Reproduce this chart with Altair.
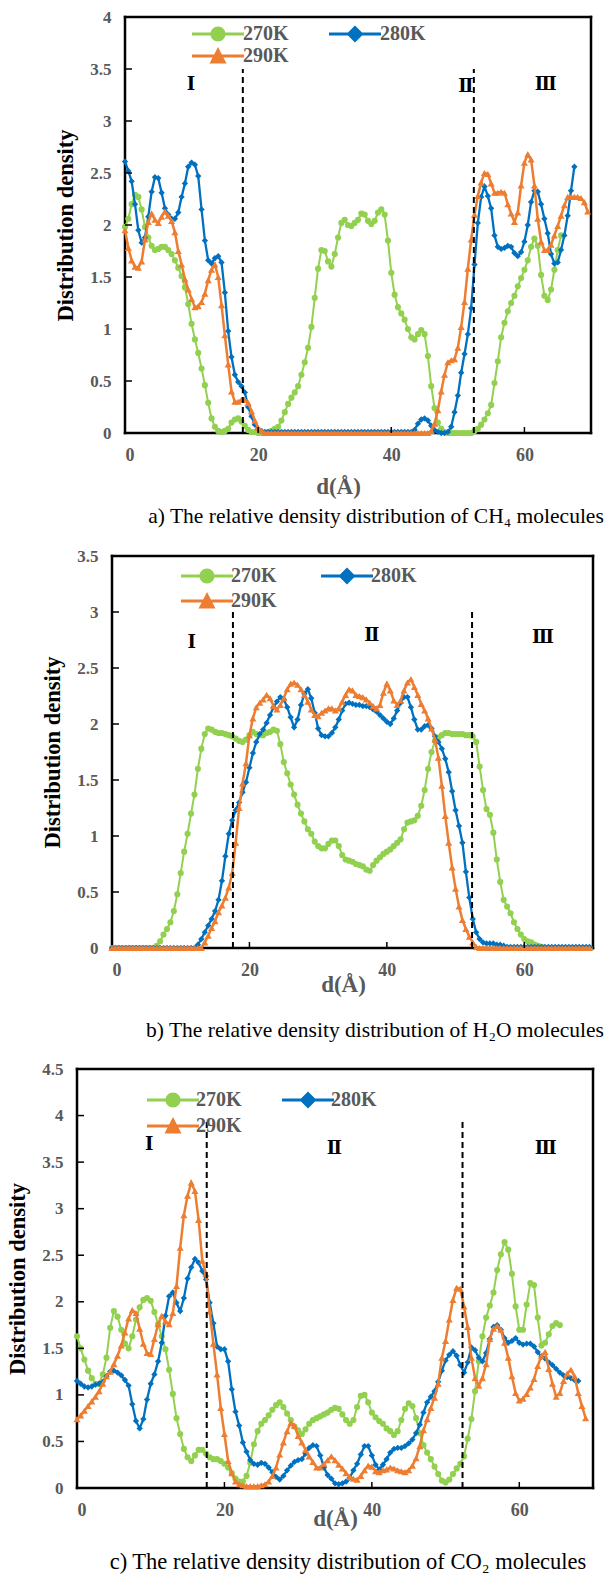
import altair as alt
import pandas as pd

STEP = 0.5  # sampling step of the distance axis (Å)
SERIES = ["270K", "280K", "290K"]
GREEN, BLUE, ORANGE = "#92D050", "#0070C0", "#ED7D31"
FONT = "Liberation Serif"
GRAY = "#595959"

# ---------------- panel a : CH4 ----------------
A270 = [
    1.98, 2.06, 2.20, 2.29, 2.27, 2.15, 1.98, 1.88, 1.80, 1.76,
    1.77, 1.79, 1.79, 1.76, 1.72, 1.66, 1.59, 1.51, 1.40, 1.24,
    1.05, 0.90, 0.77, 0.62, 0.46, 0.29, 0.14, 0.06, 0.02, 0.01,
    0.02, 0.04, 0.10, 0.13, 0.14, 0.11, 0.07, 0.03, 0.01, 0.01,
    0.00, 0.00, 0.00, 0.01, 0.02, 0.04, 0.06, 0.12, 0.20, 0.28,
    0.34, 0.39, 0.45, 0.56, 0.68, 0.82, 1.02, 1.30, 1.58, 1.76,
    1.75, 1.65, 1.60, 1.72, 1.88, 2.02, 2.05, 2.00, 1.99, 2.02,
    2.05, 2.11, 2.10, 2.04, 2.01, 2.04, 2.12, 2.15, 2.10, 1.85,
    1.54, 1.33, 1.21, 1.15, 1.09, 1.00, 0.92, 0.90, 0.95, 0.99,
    0.95, 0.74, 0.45, 0.24, 0.10, 0.04, 0.01, 0.00, 0.00, 0.00,
    0.00, 0.00, 0.00, 0.00, 0.00, 0.02, 0.04, 0.08, 0.13, 0.19,
    0.27, 0.48, 0.69, 0.92, 1.06, 1.17, 1.25, 1.32, 1.41, 1.49,
    1.57, 1.66, 1.79, 1.87, 1.80, 1.52, 1.32, 1.28, 1.38, 1.57,
    1.76, 1.90,
]
A280 = [
    2.61, 2.52, 2.42, 2.20, 1.95, 1.83, 1.88, 2.08, 2.32, 2.46,
    2.45, 2.31, 2.16, 2.10, 2.06, 2.06, 2.12, 2.27, 2.40, 2.56,
    2.60, 2.58, 2.47, 2.15, 1.85, 1.66, 1.63, 1.68, 1.70, 1.64,
    1.35, 0.98, 0.73, 0.56, 0.49, 0.45, 0.39, 0.25, 0.16, 0.08,
    0.04, 0.02, 0.01, 0.01, 0.01, 0.01, 0.01, 0.01, 0.01, 0.01,
    0.01, 0.01, 0.01, 0.01, 0.01, 0.01, 0.01, 0.01, 0.01, 0.01,
    0.01, 0.01, 0.01, 0.01, 0.01, 0.01, 0.01, 0.01, 0.01, 0.01,
    0.01, 0.01, 0.01, 0.01, 0.01, 0.01, 0.01, 0.01, 0.01, 0.01,
    0.01, 0.01, 0.01, 0.01, 0.01, 0.01, 0.01, 0.03, 0.09, 0.13,
    0.14, 0.12, 0.07, 0.03, 0.01, 0.00, 0.00, 0.01, 0.06, 0.20,
    0.36, 0.58, 0.76, 0.95, 1.20, 1.62, 2.02, 2.27, 2.37, 2.28,
    2.16, 1.90, 1.79, 1.77, 1.78, 1.80, 1.79, 1.73, 1.70, 1.74,
    1.84, 2.00, 2.22, 2.33, 2.32, 2.20, 2.06, 1.92, 1.72, 1.63,
    1.64, 1.76, 1.90, 2.09, 2.33, 2.56,
]
A290 = [
    1.95, 1.78, 1.66, 1.60, 1.59, 1.65, 1.86, 2.03, 2.11, 2.05,
    2.02, 2.08, 2.13, 2.09, 2.04, 1.93, 1.75, 1.62, 1.48, 1.38,
    1.29, 1.21, 1.22, 1.26, 1.34, 1.47, 1.57, 1.62, 1.50, 1.23,
    0.94, 0.66, 0.40, 0.30, 0.30, 0.32, 0.32, 0.29, 0.21, 0.12,
    0.05, 0.02, 0.00, 0.00, 0.00, 0.00, 0.00, 0.00, 0.00, 0.00,
    0.00, 0.00, 0.00, 0.00, 0.00, 0.00, 0.00, 0.00, 0.00, 0.00,
    0.00, 0.00, 0.00, 0.00, 0.00, 0.00, 0.00, 0.00, 0.00, 0.00,
    0.00, 0.00, 0.00, 0.00, 0.00, 0.00, 0.00, 0.00, 0.00, 0.00,
    0.00, 0.00, 0.00, 0.00, 0.00, 0.00, 0.00, 0.00, 0.00, 0.00,
    0.00, 0.00, 0.02, 0.09, 0.22, 0.40, 0.56, 0.68, 0.70, 0.71,
    0.82, 1.02, 1.26, 1.58, 1.86, 2.10, 2.28, 2.41, 2.50, 2.49,
    2.40, 2.31, 2.31, 2.32, 2.31, 2.20, 2.11, 2.03, 2.12, 2.38,
    2.60, 2.68, 2.63, 2.38, 2.06, 1.84, 1.76, 1.76, 1.81, 1.90,
    1.99, 2.09, 2.19, 2.27, 2.27, 2.27, 2.27, 2.26, 2.22, 2.13,
]

# ---------------- panel b : H2O ----------------
B270 = [
    0.00, 0.00, 0.00, 0.00, 0.00, 0.00, 0.00, 0.00, 0.00, 0.00,
    0.00, 0.00, 0.00, 0.02, 0.06, 0.12, 0.17, 0.23, 0.33, 0.48,
    0.67, 0.86, 1.02, 1.20, 1.37, 1.60, 1.78, 1.91, 1.96, 1.95,
    1.93, 1.92, 1.92, 1.91, 1.90, 1.89, 1.87, 1.85, 1.84, 1.86,
    1.90, 1.93, 1.91, 1.90, 1.90, 1.92, 1.93, 1.95, 1.94, 1.82,
    1.66, 1.56, 1.46, 1.37, 1.28, 1.20, 1.13, 1.06, 1.02, 0.95,
    0.91, 0.89, 0.89, 0.93, 0.96, 0.96, 0.91, 0.83, 0.79, 0.78,
    0.77, 0.75, 0.74, 0.73, 0.70, 0.69, 0.74, 0.78, 0.81, 0.84,
    0.86, 0.88, 0.91, 0.94, 0.97, 1.06, 1.12, 1.13, 1.14, 1.18,
    1.27, 1.41, 1.60, 1.75, 1.85, 1.88, 1.90, 1.92, 1.92, 1.91,
    1.91, 1.91, 1.91, 1.90, 1.90, 1.89, 1.84, 1.62, 1.41, 1.24,
    1.19, 1.03, 0.79, 0.59, 0.43, 0.37, 0.31, 0.23, 0.17, 0.12,
    0.08, 0.06, 0.05, 0.03, 0.02, 0.01, 0.00, 0.00, 0.00, 0.00,
    0.00, 0.00, 0.00, 0.00, 0.00, 0.00, 0.00, 0.00, 0.00, 0.00,
]
B280 = [
    0.00, 0.00, 0.00, 0.00, 0.00, 0.00, 0.00, 0.00, 0.00, 0.00,
    0.00, 0.00, 0.00, 0.00, 0.00, 0.00, 0.00, 0.00, 0.00, 0.00,
    0.00, 0.00, 0.00, 0.00, 0.00, 0.03, 0.08, 0.14, 0.20, 0.26,
    0.33, 0.43, 0.60, 0.82, 1.02, 1.14, 1.23, 1.30, 1.39, 1.48,
    1.61, 1.74, 1.84, 1.91, 1.95, 2.01, 2.08, 2.15, 2.20, 2.24,
    2.22, 2.15, 2.06, 1.97, 2.04, 2.17, 2.27, 2.31, 2.23, 2.10,
    1.96, 1.90, 1.89, 1.89, 1.92, 1.97, 2.04, 2.12, 2.18, 2.19,
    2.18, 2.17, 2.17, 2.16, 2.16, 2.15, 2.13, 2.11, 2.08, 2.05,
    2.02, 2.00, 2.05, 2.12, 2.19, 2.24, 2.24, 2.15, 2.04, 1.95,
    1.95, 1.98, 1.99, 1.96, 1.89, 1.84, 1.78, 1.69, 1.57, 1.40,
    1.23, 1.09, 0.94, 0.68, 0.45, 0.26, 0.14, 0.08, 0.05, 0.04,
    0.04, 0.04, 0.03, 0.03, 0.02, 0.01, 0.01, 0.01, 0.01, 0.01,
    0.01, 0.01, 0.01, 0.01, 0.01, 0.01, 0.01, 0.01, 0.01, 0.01,
    0.01, 0.01, 0.01, 0.01, 0.01, 0.01, 0.01, 0.01, 0.01, 0.01,
]
B290 = [
    0.00, 0.00, 0.00, 0.00, 0.00, 0.00, 0.00, 0.00, 0.00, 0.00,
    0.00, 0.00, 0.00, 0.00, 0.00, 0.00, 0.00, 0.00, 0.00, 0.00,
    0.00, 0.00, 0.00, 0.00, 0.00, 0.00, 0.00, 0.05, 0.11, 0.18,
    0.24, 0.32, 0.38, 0.45, 0.54, 0.67, 0.94, 1.25, 1.47, 1.65,
    1.90, 2.05, 2.15, 2.19, 2.22, 2.26, 2.23, 2.16, 2.13, 2.17,
    2.23, 2.31, 2.36, 2.37, 2.35, 2.31, 2.26, 2.20, 2.13, 2.08,
    2.07, 2.10, 2.12, 2.14, 2.14, 2.12, 2.14, 2.20, 2.26, 2.31,
    2.30, 2.26, 2.25, 2.24, 2.22, 2.19, 2.16, 2.14, 2.17, 2.28,
    2.36, 2.30, 2.21, 2.17, 2.21, 2.30, 2.37, 2.40, 2.33, 2.26,
    2.18, 2.12, 2.05, 1.96, 1.86, 1.70, 1.45, 1.18, 0.94, 0.72,
    0.53, 0.37, 0.25, 0.17, 0.10, 0.05, 0.01, 0.00, 0.00, 0.00,
    0.00, 0.00, 0.00, 0.00, 0.00, 0.00, 0.00, 0.00, 0.00, 0.00,
    0.00, 0.00, 0.00, 0.00, 0.00, 0.00, 0.00, 0.00, 0.00, 0.00,
    0.00, 0.00, 0.00, 0.00, 0.00, 0.00, 0.00, 0.00, 0.00, 0.00,
]

# ---------------- panel c : CO2 ----------------
C270 = [
    1.63, 1.50, 1.38, 1.26, 1.18, 1.12, 1.12, 1.22, 1.40, 1.72,
    1.90, 1.84, 1.70, 1.55, 1.50, 1.63, 1.81, 1.94, 2.02, 2.04,
    2.01, 1.89, 1.76, 1.63, 1.49, 1.27, 1.01, 0.75, 0.58, 0.42,
    0.33, 0.29, 0.35, 0.41, 0.41, 0.37, 0.33, 0.31, 0.31, 0.29,
    0.26, 0.22, 0.16, 0.10, 0.07, 0.07, 0.13, 0.27, 0.47, 0.61,
    0.69, 0.73, 0.78, 0.84, 0.89, 0.92, 0.87, 0.80, 0.73, 0.66,
    0.62, 0.58, 0.63, 0.69, 0.73, 0.75, 0.77, 0.79, 0.81, 0.84,
    0.86, 0.85, 0.79, 0.73, 0.69, 0.73, 0.87, 0.99, 1.00, 0.92,
    0.81, 0.76, 0.72, 0.69, 0.64, 0.61, 0.57, 0.61, 0.73, 0.85,
    0.91, 0.88, 0.75, 0.59, 0.46, 0.38, 0.31, 0.23, 0.15, 0.08,
    0.06, 0.09, 0.15, 0.21, 0.26, 0.34, 0.53, 0.74, 1.04, 1.36,
    1.63, 1.83, 1.96, 2.10, 2.34, 2.51, 2.64, 2.56, 2.30, 1.95,
    1.70, 1.70, 1.97, 2.20, 2.18, 1.83, 1.53, 1.56, 1.65, 1.74,
    1.77, 1.75,
]
C280 = [
    1.15, 1.12, 1.09, 1.08, 1.09, 1.11, 1.12, 1.14, 1.20, 1.25,
    1.26, 1.24, 1.21, 1.16, 1.10, 0.90, 0.72, 0.64, 0.74, 0.95,
    1.12, 1.22, 1.36, 1.56, 1.85, 2.06, 2.10, 1.99, 1.90, 2.04,
    2.25, 2.37, 2.46, 2.42, 2.33, 2.24, 1.99, 1.77, 1.52, 1.49,
    1.49, 1.36, 1.06, 0.82, 0.67, 0.49, 0.39, 0.30, 0.26, 0.25,
    0.27, 0.26, 0.22, 0.17, 0.12, 0.09, 0.13, 0.19, 0.24, 0.28,
    0.30, 0.31, 0.37, 0.43, 0.46, 0.45, 0.35, 0.22, 0.14, 0.10,
    0.05, 0.04, 0.05, 0.07, 0.11, 0.19, 0.26, 0.36, 0.45, 0.45,
    0.35, 0.25, 0.20, 0.25, 0.31, 0.38, 0.42, 0.43, 0.43, 0.45,
    0.48, 0.52, 0.59, 0.68, 0.81, 0.92, 0.98, 1.04, 1.14, 1.26,
    1.37, 1.43, 1.47, 1.42, 1.32, 1.24, 1.35, 1.51, 1.48, 1.40,
    1.36, 1.45, 1.60, 1.73, 1.75, 1.70, 1.61, 1.56, 1.58, 1.61,
    1.56, 1.54, 1.55, 1.55, 1.52, 1.46, 1.41, 1.39, 1.35, 1.32,
    1.28, 1.24, 1.21, 1.19, 1.18, 1.16, 1.15,
]
C290 = [
    0.74, 0.78, 0.83, 0.88, 0.93, 0.98, 1.04, 1.12, 1.20, 1.25,
    1.33, 1.42, 1.53, 1.67, 1.82, 1.91, 1.88, 1.71, 1.55, 1.45,
    1.44, 1.60, 1.76, 1.85, 1.79, 1.76, 1.88, 2.17, 2.58, 2.93,
    3.14, 3.28, 3.19, 2.88, 2.44, 2.30, 1.90, 1.55, 1.22, 0.86,
    0.58, 0.29, 0.16, 0.07, 0.04, 0.03, 0.02, 0.02, 0.02, 0.02,
    0.03, 0.04, 0.07, 0.13, 0.22, 0.36, 0.49, 0.61, 0.70, 0.67,
    0.56, 0.49, 0.41, 0.34, 0.28, 0.22, 0.22, 0.26, 0.30, 0.34,
    0.30, 0.25, 0.21, 0.16, 0.12, 0.10, 0.09, 0.13, 0.19, 0.24,
    0.23, 0.18, 0.17, 0.19, 0.20, 0.22, 0.21, 0.19, 0.18, 0.17,
    0.19, 0.24, 0.32, 0.45, 0.62, 0.74, 0.86, 0.97, 1.12, 1.40,
    1.58, 1.81, 2.02, 2.15, 2.14, 1.95, 1.73, 1.40, 1.18, 1.10,
    1.18, 1.33, 1.60, 1.71, 1.74, 1.70, 1.56, 1.40, 1.20, 1.02,
    0.94, 0.96, 1.01, 1.08, 1.17, 1.31, 1.42, 1.46, 1.28, 1.12,
    0.98, 1.02, 1.15, 1.23, 1.27, 1.20, 1.02, 0.88, 0.75,
]

# region boundaries (dashed lines) and region labels
A_BOUNDS, A_BTOP = [17.7, 52.4], 3.5
B_BOUNDS, B_BTOP = [17.6, 52.4], 3.0
C_BOUNDS, C_BTOP = [17.6, 52.3], 3.97
REGIONS = ["Ⅰ", "Ⅱ", "Ⅲ"]
A_REG_D, A_REG_V = [9.9, 51.2, 63.2], [3.35, 3.33, 3.35]
B_REG_D, B_REG_V = [11.6, 37.8, 62.7], [2.72, 2.79, 2.77]
C_REG_D, C_REG_V = [9.8, 34.9, 63.6], [3.68, 3.64, 3.64]

X_TICKS = [0, 20, 40, 60]
X_MAX = 70

# legend symbols: a line segment with the marker on it
LEG_PATHS = [
    "M-5.2,-0.3H5.2V0.3H-5.2Z M1.5,0A1.5,1.5,0,1,1,-1.5,0A1.5,1.5,0,1,1,1.5,0Z",
    "M-5.2,-0.3H5.2V0.3H-5.2Z M0,-1.7L1.7,0L0,1.7L-1.7,0Z",
    "M-5.2,-0.3H5.2V0.3H-5.2Z M0,-1.8L1.7,1.5L-1.7,1.5Z",
]

GROUP_W = 516   # common group width; each panel's plot box is placed by its x-range
LEFT = 77       # common left extent of every panel


def frame(values):
    return pd.DataFrame({"d": [i * STEP for i in range(len(values))], "v": values})


def panel(data, bounds, btop, reg_d, reg_v, ymax, xr, H, top, caption, cap_size,
          cap_dx, cap_offset, xt, lx, ly, lo, cp, rp):
    xs = alt.Scale(domain=[0, X_MAX], nice=False, zero=False, range=xr)
    ys = alt.Scale(domain=[0, ymax], nice=False)
    yvals = [i * 0.5 for i in range(int(ymax * 2) + 1)]
    xaxis = alt.Axis(values=X_TICKS, title="d(Å)", labelFont=FONT, labelFontSize=18,
                     labelFontWeight="bold", labelColor=GRAY, labelPadding=13,
                     titleFont=FONT, titleFontSize=23, titleFontWeight="bold",
                     titleColor=GRAY, titleX=xt[0], titleY=xt[1],
                     titleBaseline="middle", titleAlign="center")
    yaxis = alt.Axis(values=yvals, format=".1~f", title="Distribution density",
                     labelFont=FONT, labelFontSize=17, labelFontWeight="bold",
                     labelColor=GRAY, labelPadding=14, titleFont=FONT,
                     titleFontSize=22.5, titleFontWeight="bold", titleColor="black",
                     titleX=-60, titleBaseline="middle", offset=-xr[0])
    X = lambda f: alt.X(f, scale=xs, axis=xaxis)
    Y = lambda f: alt.Y(f, scale=ys, axis=yaxis)

    layers = []
    # plot frame
    box = pd.DataFrame({"d": [0, 0, 0, X_MAX], "d2": [X_MAX, X_MAX, 0, X_MAX],
                        "v": [0, ymax, 0, 0], "v2": [0, ymax, ymax, ymax]})
    layers.append(
        alt.Chart(box).mark_rule(color="black", strokeWidth=2.5, strokeCap="square")
        .encode(x=X("d:Q"), x2="d2:Q", y=Y("v:Q"), y2="v2:Q")
    )
    styles = [(GREEN, "circle", 38, 2.0), (BLUE, "diamond", 40, 2.3),
              (ORANGE, "triangle-up", 50, 2.5)]
    for vals, (col, shp, sz, sw) in zip(data, styles):
        layers.append(
            alt.Chart(frame(vals)).mark_line(
                color=col, strokeWidth=sw,
                point=alt.OverlayMarkDef(shape=shp, filled=True, size=sz, color=col, opacity=1),
            ).encode(x=X("d:Q"), y=Y("v:Q"))
        )
    # dashed region boundaries
    layers.append(
        alt.Chart(pd.DataFrame({"d": bounds, "v": [0] * len(bounds), "v2": [btop] * len(bounds)}))
        .mark_rule(color="black", strokeWidth=2, strokeDash=[6, 4])
        .encode(x=X("d:Q"), y=Y("v:Q"), y2="v2:Q")
    )
    # region labels
    layers.append(
        alt.Chart(pd.DataFrame({"d": reg_d, "v": reg_v, "t": REGIONS}))
        .mark_text(font="DejaVu Serif", fontWeight="bold", fontSize=18, color="black")
        .encode(x=X("d:Q"), y=Y("v:Q"), text="t:N")
    )
    # inward tick marks
    layers.append(
        alt.Chart(pd.DataFrame({"v": yvals[1:-1]}))
        .mark_rule(color="black", strokeWidth=1.5)
        .encode(y=Y("v:Q"), x=alt.value(xr[0]), x2=alt.value(xr[0] + 7))
    )
    layers.append(
        alt.Chart(pd.DataFrame({"d": X_TICKS[1:]}))
        .mark_rule(color="black", strokeWidth=1.5)
        .encode(x=X("d:Q"), y=alt.value(H), y2=alt.value(H - 6))
    )
    # legend (built from the colour / shape scales)
    leg = alt.Legend(title=None, orient="none", legendX=lx, legendY=ly, columns=2,
                     direction="horizontal", symbolSize=100, symbolStrokeWidth=0,
                     symbolOpacity=1, labelFont=FONT, labelFontSize=20,
                     labelFontWeight="bold", labelColor=GRAY, labelOffset=lo,
                     columnPadding=cp, rowPadding=rp, padding=0)
    layers.append(
        alt.Chart(alt.Data(values=[{"s": s} for s in SERIES]))
        .transform_filter("false")
        .mark_point(filled=True, opacity=1)
        .encode(
            color=alt.Color("s:N", scale=alt.Scale(domain=SERIES, range=[GREEN, BLUE, ORANGE]), legend=leg),
            shape=alt.Shape("s:N", scale=alt.Scale(domain=SERIES, range=LEG_PATHS), legend=leg),
        )
    )
    # invisible layout anchor (fixes the panel's left / top extent)
    layers.append(
        alt.Chart(alt.Data(values=[{}]))
        .mark_text(text=".", opacity=0, fontSize=1, align="left", baseline="top")
        .encode(x=alt.value(-LEFT), y=alt.value(-top))
    )
    return alt.layer(*layers).properties(
        width=GROUP_W, height=H,
        title=alt.TitleParams(caption, orient="bottom", anchor="middle", frame="group",
                              dx=cap_dx, offset=cap_offset, font=FONT, fontSize=cap_size,
                              fontWeight="normal", color="black"),
    )


pa = panel([A270, A280, A290], A_BOUNDS, A_BTOP, A_REG_D, A_REG_V, 4, [48, 514], 416, 17,
           "a) The relative density distribution of CH₄ molecules", 21.5, 41, 8,
           (261, 53), 131, 7, 15, 40, 2)
pb = panel([B270, B280, B290], B_BOUNDS, B_BTOP, B_REG_D, B_REG_V, 3.5, [35, 516], 392, 28,
           "b) The relative density distribution of H₂O molecules", 21.5, 40, 24,
           (266, 36), 120, 10, 14, 44, 5)
pc = panel([C270, C280, C290], C_BOUNDS, C_BTOP, C_REG_D, C_REG_V, 4.5, [0, 516], 419, 27,
           "c) The relative density distribution of CO₂ molecules", 22.5, 13, 21,
           (258, 30), 86, 21, 13, 40, 6)

chart = (
    alt.vconcat(pa, pb, pc, spacing=0)
    .resolve_scale(color="independent", shape="independent")
    .resolve_legend(color="independent", shape="independent")
    .properties(padding=0)
    .configure_view(strokeWidth=0)
    .configure_axis(grid=False, domain=False, ticks=False, tickSize=0)
)

chart.save("out.html", embed_options={"renderer": "svg", "actions": False})
